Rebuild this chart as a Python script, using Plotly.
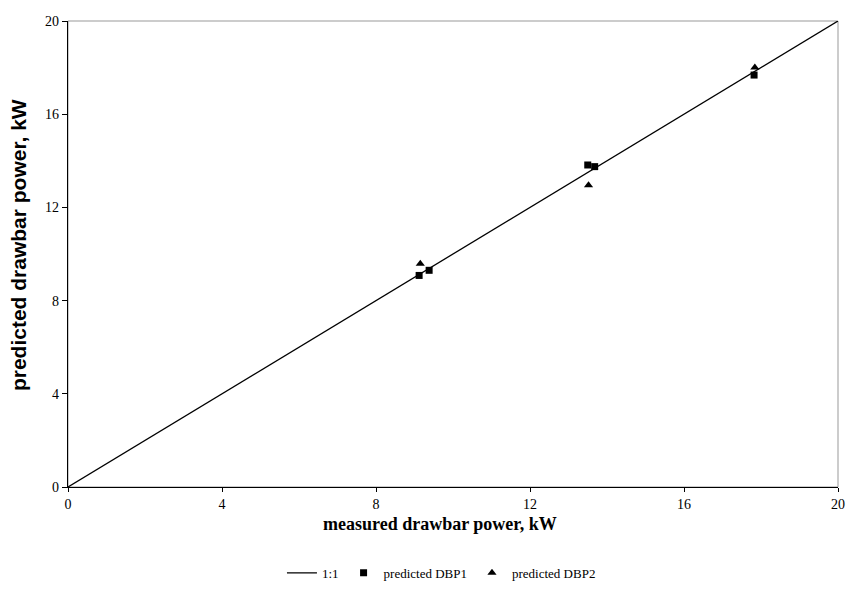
import plotly.graph_objects as go

line_x = [0, 20]
line_y = [0, 20]
dbp1_measured = [9.12, 9.38, 13.5, 13.68, 17.82]
dbp1_predicted = [9.08, 9.3, 13.82, 13.75, 17.68]
dbp2_measured = [9.15, 13.52, 17.84]
dbp2_predicted = [9.58, 12.95, 18.0]
ticks = [0, 4, 8, 12, 16, 20]

fig = go.Figure()
fig.add_trace(go.Scatter(x=line_x, y=line_y, mode="lines", name="1:1",
                         line=dict(color="black", width=1.3)))
fig.add_trace(go.Scatter(x=dbp1_measured, y=dbp1_predicted, mode="markers",
                         name="predicted DBP1",
                         marker=dict(symbol="square", color="black", size=7)))
fig.add_trace(go.Scatter(x=dbp2_measured, y=dbp2_predicted, mode="markers",
                         name="predicted DBP2",
                         marker=dict(symbol="triangle-up", color="black", size=8)))

fig.add_shape(type="rect", xref="paper", yref="paper", x0=0, y0=0, x1=1, y1=1,
              line=dict(color="#999999", width=1), layer="below")

fig.add_annotation(text="<b>measured drawbar power, kW</b>", xref="paper", yref="paper",
                   x=0.483, y=-0.08, xanchor="center", yanchor="middle", showarrow=False,
                   font=dict(family="Liberation Serif", size=18, color="black"))
fig.add_annotation(text="<b>predicted drawbar power, kW</b>", xref="paper", yref="paper",
                   x=-0.065, y=0.519, xanchor="center", yanchor="middle", showarrow=False,
                   textangle=-90,
                   font=dict(family="Liberation Sans", size=21, color="black"))

fig.update_layout(
    width=849, height=599,
    margin=dict(l=68, r=11, t=21, b=112, autoexpand=False),
    plot_bgcolor="white", paper_bgcolor="white",
    font=dict(family="Liberation Serif", size=13, color="black"),
    showlegend=True,
    legend=dict(orientation="h", x=0.485, xanchor="center", y=-0.152, yanchor="top",
                font=dict(family="Liberation Serif", size=13), itemwidth=30),
    xaxis=dict(range=[0, 20], tickvals=ticks, showgrid=False, zeroline=False,
               automargin=False,
               showline=True, linecolor="black", linewidth=1.3,
               ticks="outside", ticklen=4, tickcolor="black",
               tickfont=dict(family="Liberation Serif", size=14)),
    yaxis=dict(range=[0, 20], tickvals=ticks, showgrid=False, zeroline=False,
               automargin=False,
               showline=True, linecolor="black", linewidth=1.3,
               ticks="outside", ticklen=5, tickcolor="black",
               tickfont=dict(family="Liberation Serif", size=14)),
)

fig.write_html("out.html", config={"displayModeBar": False},
               post_script="document.body.style.margin='0';document.body.style.overflow='hidden';")
